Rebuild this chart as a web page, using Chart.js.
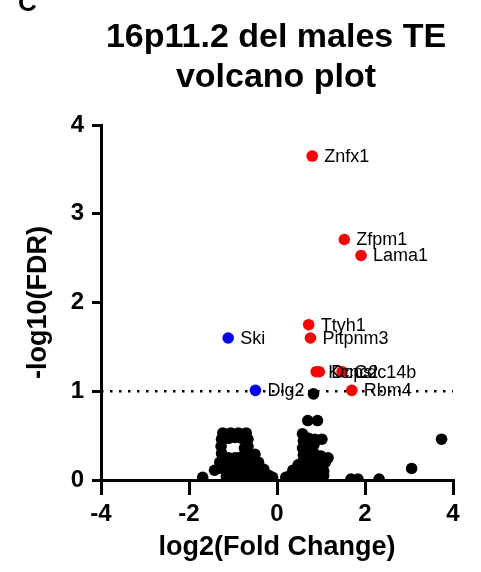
<!DOCTYPE html>
<html>
<head>
<meta charset="utf-8">
<script src="https://cdn.jsdelivr.net/npm/chart.js@4.4.1/dist/chart.umd.min.js"></script>
<style>
  html, body { margin: 0; padding: 0; background: #fff; }
  canvas { display: block; }
</style>
</head>
<body>
<canvas id="volcano" width="481" height="572"></canvas>
<script>
// significant up (red) and down (blue) genes
const upGenes = ['Znfx1', 'Zfpm1', 'Lama1', 'Ttyh1', 'Pitpnm3', 'Kcnc2', 'Dcps', 'Cdc14b', 'Rbm4'];
const upLog2FC = [0.80, 1.53, 1.91, 0.72, 0.76, 0.89, 0.96, 1.48, 1.70];
const upNegLogFDR = [3.65, 2.71, 2.53, 1.75, 1.60, 1.22, 1.22, 1.22, 1.01];

const downGenes = ['Ski', 'Dlg2'];
const downLog2FC = [-1.11, -0.49];
const downNegLogFDR = [1.60, 1.01];

// everything else (not significant)
const nsLog2FC = [
  -1.23, -1.05, -0.88, -0.70,
  -1.26, -1.10, -0.95, -0.80, -0.66,
  -1.27, -0.74, -0.66,
  -1.26, -0.66, -0.50,
  -1.10, -0.95, -0.82,
  -1.30, -1.16, -1.00, -0.85, -0.70, -0.56, -0.42,
  -1.42, -1.26, -1.12, -0.97, -0.82, -0.68, -0.53, -0.38, -0.30,
  -1.15, -1.02, -0.88, -0.74, -0.60, -0.46, -0.32, -0.18, -0.10,
  -1.69,
  0.70, 0.92,
  0.58, 0.60, 0.58, 0.60, 0.58,
  0.72, 0.86, 1.02, 0.72, 0.84,
  0.72, 0.84, 0.72, 0.86, 1.00, 1.16, 1.10,
  0.48, 0.62, 0.76, 0.90, 1.04,
  0.36, 0.50, 0.64, 0.78, 0.92, 1.06,
  0.20, 0.30, 0.44, 0.58, 0.72, 0.86, 1.00, 1.06,
  1.68, 1.84, 2.32, 3.06, 3.74, 0.83
];
const nsNegLogFDR = [
  0.53, 0.53, 0.53, 0.53,
  0.46, 0.47, 0.48, 0.47, 0.46,
  0.38, 0.36, 0.38,
  0.30, 0.30, 0.29,
  0.25, 0.25, 0.26,
  0.20, 0.19, 0.18, 0.19, 0.20, 0.20, 0.20,
  0.11, 0.13, 0.12, 0.12, 0.12, 0.12, 0.12, 0.12, 0.12,
  0.04, 0.06, 0.05, 0.06, 0.05, 0.06, 0.05, 0.05, 0.03,
  0.03,
  0.67, 0.67,
  0.52, 0.44, 0.36, 0.28, 0.20,
  0.47, 0.46, 0.46, 0.39, 0.40,
  0.31, 0.30, 0.23, 0.24, 0.27, 0.25, 0.20,
  0.17, 0.16, 0.16, 0.17, 0.16,
  0.11, 0.11, 0.10, 0.10, 0.11, 0.10,
  0.03, 0.05, 0.05, 0.05, 0.04, 0.04, 0.04, 0.05,
  0.01, 0.01, 0.01, 0.13, 0.46, 0.97
];

const fdrCutoff = 1;
const xTicks = [-4, -2, 0, 2, 4];
const yTicks = [0, 1, 2, 3, 4];

const FONT = '"Liberation Sans", Arial, Helvetica, sans-serif';

const toPoints = (xs, ys) => xs.map((x, i) => ({ x, y: ys[i] }));

// gene names next to the coloured dots
const geneLabels = {
  id: 'geneLabels',
  afterDatasetsDraw(chart) {
    const { ctx } = chart;
    ctx.save();
    ctx.font = '18px ' + FONT;
    ctx.fillStyle = '#000';
    ctx.textAlign = 'left';
    ctx.textBaseline = 'middle';
    chart.data.datasets.forEach((ds, i) => {
      if (!ds.genes) return;
      chart.getDatasetMeta(i).data.forEach((pt, j) => {
        ctx.fillText(ds.genes[j], pt.x + 12, pt.y + 1);
      });
    });
    ctx.restore();
  }
};

// two-line heading and panel letter
const heading = {
  id: 'heading',
  afterDraw(chart) {
    const { ctx, chartArea } = chart;
    const cx = (chartArea.left + chartArea.right) / 2 - 1;
    ctx.save();
    ctx.fillStyle = '#000';
    ctx.textAlign = 'center';
    ctx.textBaseline = 'alphabetic';
    ctx.font = 'bold 34px ' + FONT;
    ctx.fillText('16p11.2 del males TE', cx, 47);
    ctx.fillText('volcano plot', cx, 87);
    ctx.textAlign = 'left';
    ctx.font = 'bold 26px ' + FONT;
    ctx.fillText('C', 18, 11);
    ctx.restore();
  }
};

const dotStyle = color => ({
  pointRadius: 5.8,
  pointHoverRadius: 5.8,
  pointBackgroundColor: color,
  pointBorderWidth: 0,
  borderWidth: 0,
  clip: { left: 10, top: 10, right: 10, bottom: 0 }
});

new Chart(document.getElementById('volcano'), {
  type: 'scatter',
  data: {
    datasets: [
      { label: 'up', genes: upGenes, data: toPoints(upLog2FC, upNegLogFDR), ...dotStyle('#ff0000') },
      { label: 'down', genes: downGenes, data: toPoints(downLog2FC, downNegLogFDR), ...dotStyle('#0000ff') },
      { label: 'ns', data: toPoints(nsLog2FC, nsNegLogFDR), ...dotStyle('#000000') },
      {
        label: 'FDR cutoff',
        data: [{ x: xTicks[0], y: fdrCutoff }, { x: xTicks[xTicks.length - 1], y: fdrCutoff }],
        showLine: true,
        borderColor: '#000',
        borderWidth: 2.5,
        borderDash: [2.5, 6.5],
        pointRadius: 0
      }
    ]
  },
  options: {
    responsive: false,
    animation: false,
    events: [],
    layout: { padding: { top: 125, right: 28, bottom: 0, left: 0 } },
    plugins: {
      legend: { display: false },
      tooltip: { enabled: false }
    },
    scales: {
      x: {
        type: 'linear',
        position: 'bottom',
        min: -4,
        max: 4,
        afterBuildTicks: s => { s.ticks = xTicks.map(v => ({ value: v })); },
        afterFit: s => { s.height = 92; },
        grid: { drawOnChartArea: false, drawTicks: true, tickLength: 15, color: '#000', lineWidth: 3 },
        border: { display: true, color: '#000', width: 3 },
        ticks: { color: '#000', padding: 5, font: { family: FONT, size: 24, weight: 'bold' } },
        title: {
          display: true,
          text: 'log2(Fold Change)',
          color: '#000',
          padding: { top: 0, bottom: 8 },
          font: { family: FONT, size: 27, weight: 'bold' }
        }
      },
      y: {
        type: 'linear',
        min: 0,
        max: 4,
        afterBuildTicks: s => { s.ticks = yTicks.map(v => ({ value: v })); },
        afterFit: s => { s.width = 101; },
        grid: { drawOnChartArea: false, drawTicks: true, tickLength: 9, color: '#000', lineWidth: 3 },
        border: { display: true, color: '#000', width: 3 },
        ticks: { color: '#000', padding: 8, font: { family: FONT, size: 24, weight: 'bold' } },
        title: {
          display: true,
          text: '-log10(FDR)',
          color: '#000',
          padding: { top: 22, bottom: 0 },
          font: { family: FONT, size: 27, weight: 'bold' }
        }
      }
    }
  },
  plugins: [geneLabels, heading]
});
</script>
</body>
</html>
